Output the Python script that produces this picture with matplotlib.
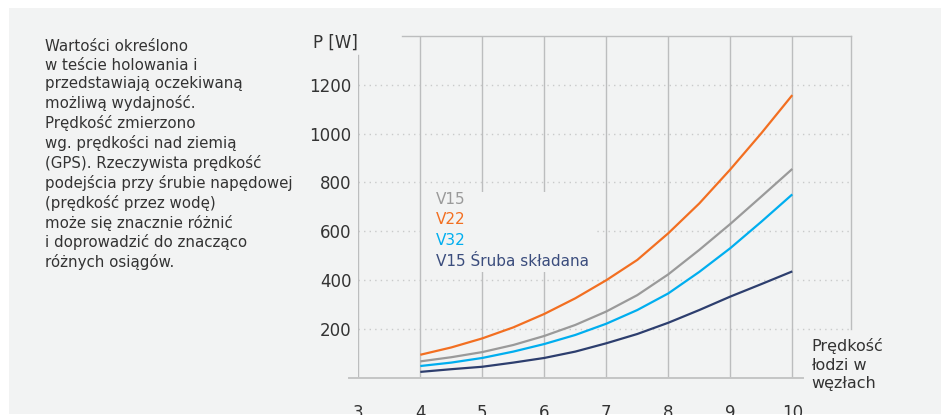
import matplotlib.pyplot as plt
from matplotlib.patches import Rectangle

# data
speed = [4, 4.5, 5, 5.5, 6, 6.5, 7, 7.5, 8, 8.5, 9, 9.5, 10]
v15 = [68, 85, 106, 135, 172, 217, 272, 339, 424, 524, 630, 742, 855]
v22 = [95, 125, 162, 207, 262, 326, 400, 483, 592, 714, 853, 1001, 1157]
v32 = [49, 63, 82, 108, 139, 176, 222, 278, 346, 434, 531, 639, 751]
v15_fold = [25, 36, 46, 63, 82, 108, 142, 180, 226, 278, 333, 384, 436]

series_names = ["V15", "V22", "V32", "V15 Śruba składana"]
x_ticks = [3, 4, 5, 6, 7, 8, 9, 10]
y_ticks = [200, 400, 600, 800, 1000, 1200]

note = ("Wartości określono\nw teście holowania i\nprzedstawiają oczekiwaną\n"
        "możliwą wydajność.\nPrędkość zmierzono\nwg. prędkości nad ziemią\n"
        "(GPS). Rzeczywista prędkość\npodejścia przy śrubie napędowej\n"
        "(prędkość przez wodę)\nmoże się znacznie różnić\ni doprowadzić do znacząco\n"
        "różnych osiągów.")

W, H = 941, 415
bg = "#f2f3f3"
grid_c = "#bcbdbe"
txt_c = "#333333"
colors = ["#9a9a9a", "#f26f21", "#00aeef", "#2d3e6e"]
label_colors = ["#9a9a9a", "#f26f21", "#00aeef", "#3b4d7d"]

plt.rcParams['font.family'] = ['DejaVu Sans']

fig = plt.figure(figsize=(W / 100, H / 100), dpi=100, facecolor="white")
fig.patches.append(Rectangle((9 / W, 1 / H), (W - 9) / W, (H - 9) / H,
                             transform=fig.transFigure, facecolor=bg,
                             edgecolor="none", zorder=-10))

# axes placed in pixels: x=3 at 358.3px, 62 px per knot, y=0 at 378px
left_px, right_px, bot_px, top_px = 358.3, 851.3, 378.0, 35.7
ax = fig.add_axes([left_px / W, 1 - bot_px / H, (right_px - left_px) / W,
                   (bot_px - top_px) / H])
ax.set_facecolor("none")
xmax = 3 + (right_px - left_px) / 62
ax.set_xlim(3, xmax)
ax.set_ylim(0, 1400)
for s in ax.spines.values():
    s.set_visible(False)

# grid and frame
for y in y_ticks:
    ax.plot([3, xmax], [y, y], color="#c9caca", lw=1, ls=(0, (1, 3)), zorder=1)
for x in x_ticks[1:]:
    ax.plot([x, x], [0, 1400], color=grid_c, lw=1.0, zorder=1)
ax.plot([3, 3], [0, 1321], color=grid_c, lw=1.0, zorder=1)
ax.plot([3.7, xmax], [1400, 1400], color=grid_c, lw=1.0, zorder=1, clip_on=False)
ax.plot([xmax, xmax], [200, 1400], color=grid_c, lw=1.0, zorder=1, clip_on=False)
ax.plot([2.85, 10.17], [0, 0], color="#c4c5c5", lw=1.4, zorder=1, clip_on=False)

# box behind the legend text
ax.add_patch(Rectangle((4.03, 434), 2.82, 327, facecolor=bg, edgecolor="none", zorder=2))

for vals, c in zip([v15, v22, v32, v15_fold], colors):
    ax.plot(speed, vals, color=c, lw=1.6, zorder=3, solid_capstyle="butt")

ax.set_xticks(x_ticks)
ax.set_yticks(y_ticks)
ax.set_xticklabels([str(v) for v in x_ticks])
ax.set_yticklabels([str(v) for v in y_ticks])
ax.tick_params(axis="x", length=0, pad=19, labelsize=12, labelcolor=txt_c)
ax.tick_params(axis="y", length=0, pad=5, labelsize=12, labelcolor=txt_c)


def px(x, y):
    return x / W, 1 - y / H


# legend labels
for i, (name, c) in enumerate(zip(series_names, label_colors)):
    fig.text(*px(436, 199 + i * 20.7), name, color=c, fontsize=11,
             ha="left", va="center")

fig.text(*px(313, 43), "P [W]", color=txt_c, fontsize=12, ha="left", va="center")
fig.text(*px(811, 338), "Prędkość\nłodzi w\nwęzłach", color=txt_c, fontsize=11.5,
         ha="left", va="top", linespacing=1.3)
fig.text(*px(45, 39), note, color=txt_c, fontsize=10.8, ha="left", va="top",
         linespacing=1.3)

fig.savefig("out.png", dpi=100, facecolor="white")
